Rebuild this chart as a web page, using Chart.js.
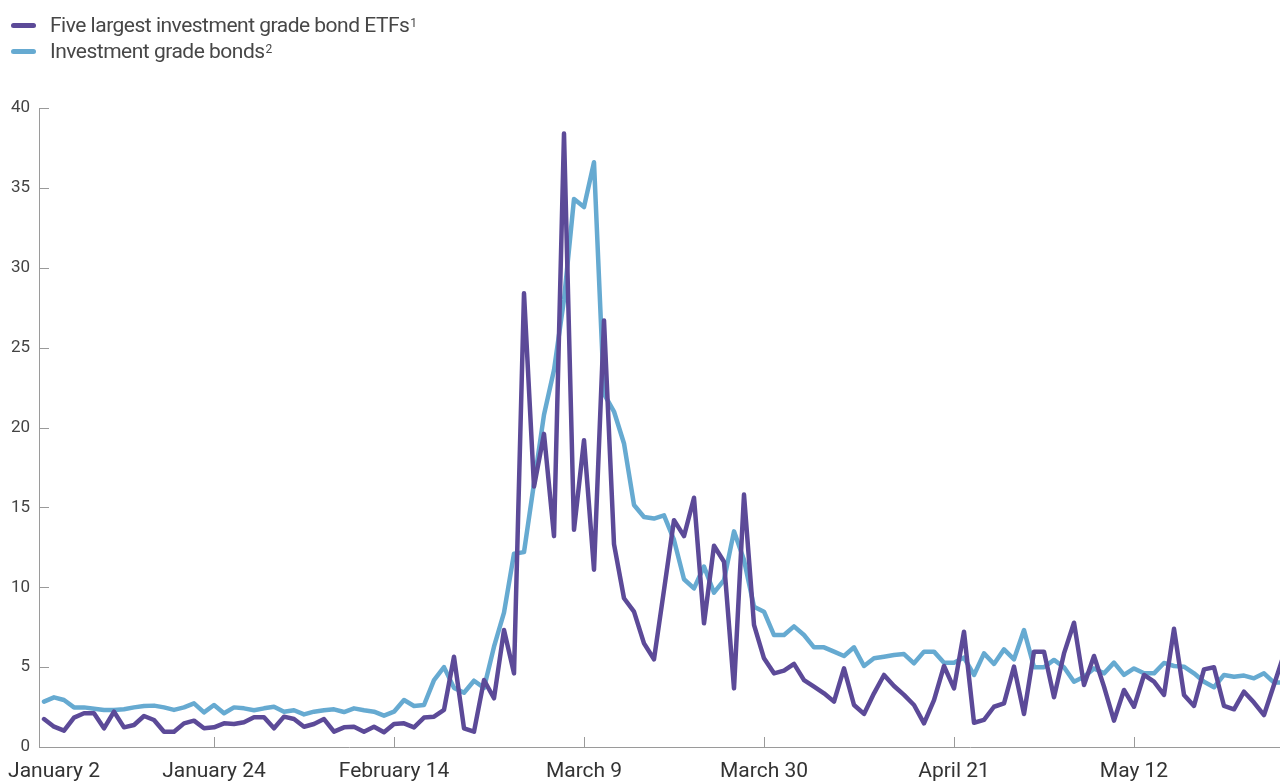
<!DOCTYPE html>
<html>
<head>
<meta charset="utf-8">
<script src="https://cdn.jsdelivr.net/npm/chart.js@4.4.1/dist/chart.umd.min.js"></script>
<style>
  html, body { margin: 0; padding: 0; background: #fff; }
  #wrap { position: relative; width: 1280px; height: 783px; overflow: hidden; }
  #chart { position: absolute; left: 0; top: 0; }
  .legend { position: absolute; left: 11px; top: 12px; font-family: Roboto, sans-serif; font-size: 21px; letter-spacing: -0.5px; color: #474747; }
  .legend div { display: flex; align-items: center; height: 26px; }
  .legend span.sw { display: inline-block; width: 25px; height: 5px; border-radius: 3px; margin-right: 14px; }
  .legend sup { font-size: 12px; vertical-align: 5px; line-height: 0; margin-left: 1px; }
</style>
</head>
<body>
<div id="wrap">
  <canvas id="chart" width="1280" height="783"></canvas>
  <div class="legend" id="legend"></div>
</div>
<script>
// ===== DATA =====
const seriesNames = ["Five largest investment grade bond ETFs", "Investment grade bonds"];
const seriesNotes = ["1", "2"];
const seriesColors = ["#5c4a98", "#66aad1"];

// one value per observation, index 0 = first point on the left
const etfs = [
  1.75, 1.27, 1.02, 1.84, 2.11, 2.11, 1.17, 2.21, 1.23, 1.38,
  1.94, 1.69, 0.96, 0.96, 1.48, 1.65, 1.17, 1.23, 1.48, 1.44,
  1.55, 1.86, 1.86, 1.17, 1.90, 1.75, 1.27, 1.44, 1.75, 0.96,
  1.23, 1.27, 0.96, 1.27, 0.92, 1.44, 1.48, 1.23, 1.84, 1.90,
  2.32, 5.65, 1.17, 0.96, 4.19, 3.05, 7.32, 4.61, 28.4, 16.3,
  19.6, 13.2, 38.4, 13.6, 19.2, 11.1, 26.7, 12.7, 9.31, 8.47,
  6.49, 5.49, 9.83, 14.2, 13.2, 15.6, 7.74, 12.6, 11.6, 3.67,
  15.8, 7.64, 5.55, 4.61, 4.78, 5.20, 4.19, 3.78, 3.36, 2.84,
  4.92, 2.63, 2.07, 3.36, 4.51, 3.82, 3.26, 2.63, 1.48, 2.94,
  5.07, 3.67, 7.22, 1.52, 1.70, 2.52, 2.73, 5.03, 2.07, 5.97,
  5.97, 3.11, 5.86, 7.78, 3.88, 5.70, 3.78, 1.65, 3.57, 2.52,
  4.51, 4.09, 3.26, 7.40, 3.26, 2.57, 4.86, 4.99, 2.57, 2.36,
  3.46, 2.78, 2.00, 3.90, 5.80
];
const bonds = [
  2.84, 3.11, 2.94, 2.48, 2.48, 2.40, 2.32, 2.32, 2.36, 2.48,
  2.57, 2.59, 2.48, 2.32, 2.48, 2.73, 2.17, 2.63, 2.11, 2.48,
  2.42, 2.30, 2.42, 2.52, 2.21, 2.30, 2.04, 2.21, 2.30, 2.36,
  2.19, 2.42, 2.30, 2.21, 1.96, 2.21, 2.94, 2.57, 2.63, 4.19,
  5.00, 3.70, 3.40, 4.15, 3.70, 6.28, 8.41, 12.1, 12.2, 16.5,
  20.8, 23.6, 28.0, 34.3, 33.8, 36.6, 22.1, 21.0, 19.0, 15.15,
  14.4, 14.3, 14.5, 12.96, 10.5, 9.93, 11.3, 9.66, 10.45, 13.5,
  11.7, 8.78, 8.47, 7.01, 7.01, 7.55, 7.01, 6.24, 6.24, 5.97,
  5.70, 6.24, 5.07, 5.55, 5.65, 5.76, 5.82, 5.24, 5.97, 5.97,
  5.28, 5.28, 5.60, 4.51, 5.86, 5.20, 6.11, 5.49, 7.32, 4.99,
  4.99, 5.45, 4.99, 4.09, 4.40, 4.92, 4.61, 5.28, 4.51, 4.92,
  4.61, 4.61, 5.26, 5.07, 5.03, 4.61, 4.09, 3.74, 4.51, 4.40,
  4.47, 4.30, 4.61, 4.03, 4.03
];

// date labels and the observation each one sits under
const tickLabels = ["January 2", "January 24", "February 14", "March 9", "March 30", "April 21", "May 12"];
const tickIndex = [1, 17, 35, 54, 72, 91, 109];
const yTicks = [0, 5, 10, 15, 20, 25, 30, 35, 40];

// ===== LEGEND =====
const legendEl = document.getElementById("legend");
seriesNames.forEach((name, i) => {
  const row = document.createElement("div");
  const sw = document.createElement("span");
  sw.className = "sw";
  sw.style.background = seriesColors[i];
  const txt = document.createElement("span");
  txt.textContent = name;
  const sup = document.createElement("sup");
  sup.textContent = seriesNotes[i];
  txt.appendChild(sup);
  row.appendChild(sw);
  row.appendChild(txt);
  legendEl.appendChild(row);
});

const axisColor = "#9a9a9a";

// small tick marks pointing into the plot
const innerTicks = {
  id: "innerTicks",
  beforeDatasetsDraw(chart) {
    const { ctx, chartArea, scales } = chart;
    ctx.save();
    ctx.strokeStyle = axisColor;
    ctx.lineWidth = 1;
    ctx.beginPath();
    scales.y.ticks.forEach(t => {
      const py = Math.round(scales.y.getPixelForValue(t.value)) + 0.5;
      ctx.moveTo(chartArea.left, py);
      ctx.lineTo(chartArea.left + 10, py);
    });
    scales.x.ticks.forEach((t, i) => {
      if (i === 0) return;
      const px = Math.round(scales.x.getPixelForValue(t.value)) + 0.5;
      ctx.moveTo(px, chartArea.bottom);
      ctx.lineTo(px, chartArea.bottom - 10);
    });
    ctx.stroke();
    ctx.restore();
  }
};

const toPoints = arr => arr.map((v, i) => ({ x: i, y: v }));

new Chart(document.getElementById("chart"), {
  type: "line",
  data: {
    datasets: [
      {
        label: seriesNames[0],
        data: toPoints(etfs),
        borderColor: seriesColors[0],
        borderWidth: 4.5,
        borderJoinStyle: "round",
        borderCapStyle: "round",
        pointRadius: 0,
        tension: 0
      },
      {
        label: seriesNames[1],
        data: toPoints(bonds),
        borderColor: seriesColors[1],
        borderWidth: 4.5,
        borderJoinStyle: "round",
        borderCapStyle: "round",
        pointRadius: 0,
        tension: 0
      }
    ]
  },
  options: {
    responsive: false,
    animation: false,
    layout: { padding: { top: 108, right: 0, bottom: 0, left: 0 } },
    plugins: {
      legend: { display: false },
      tooltip: { enabled: false }
    },
    scales: {
      x: {
        type: "linear",
        min: -0.5,
        max: 123.6,
        grid: { display: false, drawTicks: false },
        border: { display: true, color: axisColor, width: 1 },
        afterBuildTicks: s => { s.ticks = tickIndex.map(v => ({ value: v })); },
        afterFit: s => { s.height = 36; s.paddingLeft = 0; s.paddingRight = 0; },
        ticks: {
          autoSkip: false,
          maxRotation: 0,
          padding: 12,
          color: "#333",
          font: { family: "Roboto", size: 21 },
          callback: (v, i) => tickLabels[i]
        }
      },
      y: {
        min: 0,
        max: 40,
        grid: { display: false, drawTicks: false },
        border: { display: true, color: axisColor, width: 1 },
        afterBuildTicks: s => { s.ticks = yTicks.map(v => ({ value: v })); },
        afterFit: s => { s.width = 39; },
        ticks: {
          padding: 9,
          color: "#444",
          font: { family: "Roboto", size: 17 }
        }
      }
    }
  },
  plugins: [innerTicks]
});
</script>
</body>
</html>
